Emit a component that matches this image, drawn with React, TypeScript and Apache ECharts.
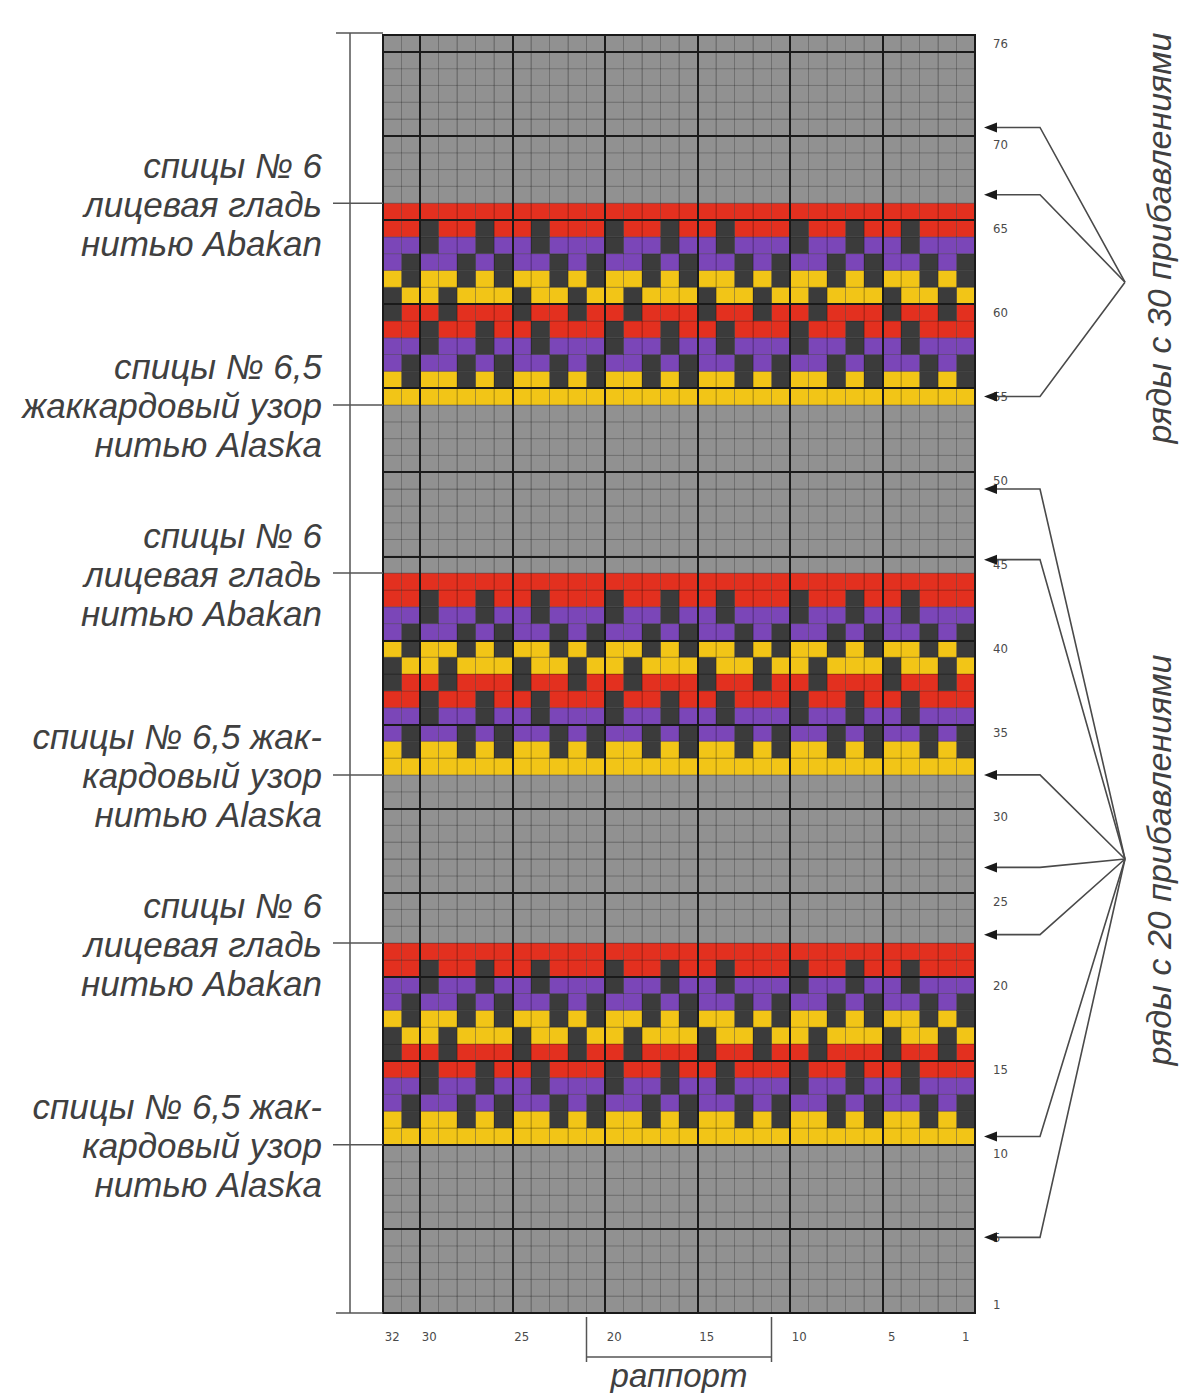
import React, { useEffect, useRef } from 'react';
import * as echarts from 'echarts';

const COLS = 32;
const ROWS = 76;
const colNumbers = Array.from({ length: COLS }, (_, i) => String(i + 1));
const rowNumbers = Array.from({ length: ROWS }, (_, i) => String(i + 1));
const colTickLabels = ['32', '30', '25', '20', '15', '10', '5', '1'];
const rowTickLabels = ['1', '5', '10', '15', '20', '25', '30', '35', '40', '45', '50', '55', '60', '65', '70', '76'];

// one jacquard band, 12 rows, top row first; each string = columns 32 -> 1
// G gray, R red, P purple, Y yellow, K dark
const bandPattern = [
  'RRRRRRRRRRRRRRRRRRRRRRRRRRRRRRRR',
  'RRKRRKRRKRRRKRRKRRKRRRKRRKRRKRRR',
  'PPKPPKPPKPPPKPPKPPKPPPKPPKPPKPPP',
  'PKPPKPKPPKPKPPKPKPPKPKPPKPKPPKPK',
  'YKYYKYKYYKYKYYKYKYYKYKYYKYKYYKYK',
  'KYYKYYYKYYKYYKYYYKYYKYYKYYYKYYKY',
  'KRRKRRRKRRKRRKRRRKRRKRRKRRRKRRKR',
  'RRKRRKRRKRRRKRRKRRKRRRKRRKRRKRRR',
  'PPKPPKPPKPPPKPPKPPKPPPKPPKPPKPPP',
  'PKPPKPKPPKPKPPKPKPPKPKPPKPKPPKPK',
  'YKYYKYKYYKYKYYKYKYYKYKYYKYKYYKYK',
  'YYYYYYYYYYYYYYYYYYYYYYYYYYYYYYYY',
];
const bandTopRows = [66, 44, 22];
const colorKeys = ['G', 'R', 'P', 'Y', 'K'];
const cellColors = ['#919191', '#e3301f', '#7b46b8', '#f2c517', '#3b3b3b'];

const upperLabel = ['спицы № 6', 'лицевая гладь', 'нитью Abakan'];
const lowerLabels = [
  ['спицы № 6,5', 'жаккардовый узор', 'нитью Alaska'],
  ['спицы № 6,5 жак-', 'кардовый узор', 'нитью Alaska'],
  ['спицы № 6,5 жак-', 'кардовый узор', 'нитью Alaska'],
];

const arrows30 = [70.5, 66.5, 54.5];
const hub30 = 61.3;
const arrows20 = [49, 44.8, 32, 26.5, 22.5, 10.5, 4.5];
const hub20 = 27;
const rapportFrom = 21;
const rapportTo = 11;

const NARROW = "'Liberation Sans Narrow', 'DejaVu Sans Condensed', 'Liberation Sans', sans-serif";
const TEXT_FONT = "'Liberation Sans', Arial, sans-serif";
const TEXT_COLOR = '#404040';

export default function App() {
  const ref = useRef<HTMLDivElement>(null);
  useEffect(() => {
    const chart = echarts.init(ref.current!, null, { renderer: 'svg' });
    const cells: number[][] = [];
    for (let r = 1; r <= ROWS; r++) {
      let rowStr: string | null = null;
      for (const top of bandTopRows) {
        if (r <= top && r > top - bandPattern.length) rowStr = bandPattern[top - r];
      }
      for (let c = 1; c <= COLS; c++) {
        const ch = rowStr ? rowStr[COLS - c] : 'G';
        cells.push([c, r, colorKeys.indexOf(ch)]);
      }
    }

    chart.setOption({
      animation: false,
      grid: { left: 383, top: 35, width: 592, height: 1278, show: false },
      xAxis: [
        {
          type: 'value', min: 0, max: COLS, interval: 5, inverse: true, position: 'top',
          axisLabel: { show: false }, axisTick: { show: false }, axisLine: { show: false },
          splitLine: { show: true, lineStyle: { color: '#1a1a1a', width: 2 } }, z: 10,
        },
        {
          type: 'category', data: colNumbers, inverse: true, position: 'bottom',
          axisLine: { show: false }, axisTick: { show: false }, splitLine: { show: false },
          axisLabel: {
            interval: 0, formatter: (v: string) => (colTickLabels.includes(v) ? v : ''),
            color: '#4a4a4a', fontSize: 13, fontFamily: NARROW, margin: 17,
          },
        },
      ],
      yAxis: [
        {
          type: 'value', min: 0, max: ROWS, interval: 5, position: 'left',
          axisLabel: { show: false }, axisTick: { show: false }, axisLine: { show: false },
          splitLine: { show: true, lineStyle: { color: '#1a1a1a', width: 2 } }, z: 10,
        },
        {
          type: 'category', data: rowNumbers, position: 'right',
          axisLine: { show: false }, axisTick: { show: false }, splitLine: { show: false },
          axisLabel: {
            interval: 0, formatter: (v: string) => (rowTickLabels.includes(v) ? v : ''),
            color: '#4a4a4a', fontSize: 13, fontFamily: NARROW, margin: 18,
          },
        },
      ],
      series: [
        {
          type: 'custom', xAxisIndex: 0, yAxisIndex: 0, data: cells, encode: { x: 0, y: 1 }, silent: true,
          renderItem: (params: any, api: any) => {
            const c = api.value(0), r = api.value(1), k = api.value(2);
            const a = api.coord([c, r]);
            const b = api.coord([c - 1, r - 1]);
            return {
              type: 'rect',
              shape: { x: a[0], y: a[1], width: b[0] - a[0], height: b[1] - a[1] },
              style: { fill: cellColors[k], stroke: 'rgba(0,0,0,0.3)', lineWidth: 0.8 },
            };
          },
        },
      ],
    });

    const px = (x: number, y: number) => chart.convertToPixel({ xAxisIndex: 0, yAxisIndex: 0 }, [x, y]) as number[];
    const [gl, gt] = px(COLS, ROWS);
    const [gr, gb] = px(0, 0);
    const els: any[] = [];
    const line = (x1: number, y1: number, x2: number, y2: number, color = '#555', w = 1.5) =>
      els.push({ type: 'line', shape: { x1, y1, x2, y2 }, style: { stroke: color, lineWidth: w }, z: 20 });
    const text = (t: string, x: number, y: number, align: string, size: number, rotation = 0) =>
      els.push({
        type: 'text', x, y, rotation, z: 20,
        style: { text: t, fill: TEXT_COLOR, fontSize: size, fontFamily: TEXT_FONT, fontStyle: 'italic', align, verticalAlign: 'middle' },
      });

    // grid border
    els.push({ type: 'rect', shape: { x: gl, y: gt, width: gr - gl, height: gb - gt }, style: { fill: 'none', stroke: '#1a1a1a', lineWidth: 2 }, z: 20 });

    // left bracket
    line(gl - 33, gt - 2, gl - 33, gb, '#555', 1.5);
    line(gl - 47, gt - 2, gl, gt - 2, '#555', 1.5);
    line(gl - 47, gb, gl, gb, '#555', 1.5);

    // band leader lines & labels
    bandTopRows.forEach((top, i) => {
      const yTop = px(0, top)[1];
      const yBot = px(0, top - bandPattern.length)[1];
      line(gl - 50, yTop, gl, yTop, '#555', 1.5);
      line(gl - 50, yBot, gl, yBot, '#555', 1.5);
      upperLabel.forEach((t, j) => text(t, gl - 61, yTop + 1 + (j - 1) * 39, 'right', 35));
      lowerLabels[i].forEach((t, j) => text(t, gl - 61, yBot + 1 + (j - 1) * 39, 'right', 35));
    });

    // arrows
    const arrowGroup = (rows: number[], hub: number) => {
      const hy = px(0, hub)[1];
      const hx = gr + 150;
      rows.forEach((r) => {
        const y = px(0, r)[1];
        const tip = gr + 9;
        els.push({
          type: 'polyline', shape: { points: [[tip + 8, y], [gr + 65, y], [hx, hy]] },
          style: { stroke: '#4a4a4a', lineWidth: 1.6, fill: 'none' }, z: 20,
        });
        els.push({
          type: 'polygon', shape: { points: [[tip, y], [tip + 13, y - 5], [tip + 13, y + 5]] },
          style: { fill: '#1a1a1a' }, z: 21,
        });
      });
    };
    arrowGroup(arrows30, hub30);
    arrowGroup(arrows20, hub20);

    text('ряды с 30 прибавлениями', gr + 184, 238, 'center', 34, Math.PI / 2);
    text('ряды с 20 прибавлениями', gr + 184, 860, 'center', 34, Math.PI / 2);

    // rapport bracket
    const rx1 = px(rapportFrom, 0)[0];
    const rx2 = px(rapportTo, 0)[0];
    line(rx1, gb + 4, rx1, gb + 49, '#555', 1.5);
    line(rx2, gb + 4, rx2, gb + 49, '#555', 1.5);
    line(rx1, gb + 44, rx2, gb + 44, '#555', 1.5);
    text('раппорт', (rx1 + rx2) / 2, gb + 62, 'center', 33);

    chart.setOption({ graphic: { elements: els } });

    return () => chart.dispose();
  }, []);
  return (
    <div
      ref={ref}
      style={{ position: 'absolute', left: 0, top: 0, width: 1179, height: 1393, background: '#fff' }}
    />
  );
}
